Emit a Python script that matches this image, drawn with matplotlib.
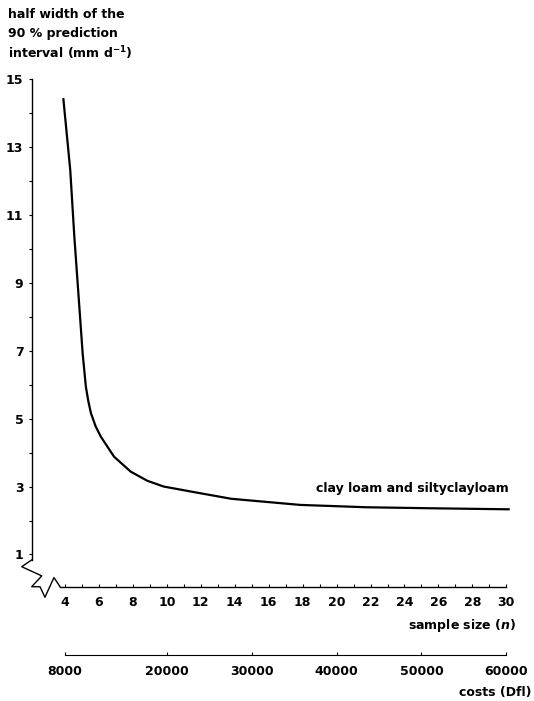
import numpy as np
import matplotlib
matplotlib.use("Agg")
import matplotlib.pyplot as plt

plt.rcParams['font.family'] = ['DejaVu Sans']
plt.rcParams['font.weight'] = 'bold'
plt.rcParams['mathtext.fontset'] = 'custom'
plt.rcParams['mathtext.rm'] = 'DejaVu Sans:bold'
plt.rcParams['mathtext.it'] = 'DejaVu Sans:italic:bold'

# values
sample_n = [3.9, 4.31, 4.55, 4.90, 5.04, 5.23, 5.38, 5.53, 5.8, 6.11, 6.89,
            7.87, 8.85, 9.82, 11.79, 13.8, 17.85, 21.8, 25.7, 30.2]
half_width = [14.44, 12.32, 10.36, 7.91, 6.92, 5.94, 5.5, 5.16, 4.78, 4.47,
              3.88, 3.44, 3.17, 3.00, 2.82, 2.64, 2.46, 2.39, 2.36, 2.33]
n_ticks = list(range(4, 31, 2))
y_ticks = list(range(1, 16, 2))
cost_ticks = [8000, 20000, 30000, 40000, 50000, 60000]
cost_per_sample = 2000
curve_label = "clay loam and siltyclayloam"
ylabel_lines = ["half width of the", "90 % prediction", "interval (mm d$^{-1}$)"]

fs = 9
fig = plt.figure(figsize=(5.34, 7.01), dpi=100)
ax = fig.add_axes([0.0594, 0.163, 0.9047, 0.729])

ax.plot(sample_n, half_width, color='black', lw=1.6, solid_capstyle='butt',
        solid_joinstyle='round')

ax.set_xlim(2.04, 30.5)
ax.set_ylim(0.05, 15.1)
for s in ('top', 'right'):
    ax.spines[s].set_visible(False)
ax.spines['left'].set_bounds(0.84, 15)
ax.spines['bottom'].set_bounds(3.71, 30)
for s in ('left', 'bottom'):
    ax.spines[s].set_linewidth(1.0)

# axis break marks
brk_x = [2.04, 1.45, 2.63, 2.04, 2.53, 2.82, 3.35, 3.71]
brk_y = [0.84, 0.64, 0.37, 0.05, 0.05, -0.26, 0.32, 0.05]
ax.plot(brk_x, brk_y, color='black', lw=1.0, clip_on=False)

ax.set_xticks(n_ticks)
ax.set_xticks(range(5, 30, 2), minor=True)
ax.set_yticks(y_ticks)
ax.set_yticks(range(2, 15, 2), minor=True)
ax.tick_params(axis='x', which='both', direction='in', length=2, width=0.8,
               pad=7, labelsize=fs)
ax.tick_params(axis='y', which='both', direction='out', length=2, width=0.8,
               pad=4, labelsize=fs)

ax.text(30.17, 2.93, curve_label, ha='right', va='center', fontsize=fs)

# second axis: costs
ax2 = fig.add_axes([0.0594, 0.0656, 0.9047, 0.001])
ax2.set_xlim(2.04 * cost_per_sample, 30.5 * cost_per_sample)
for s in ('top', 'right', 'left'):
    ax2.spines[s].set_visible(False)
ax2.spines['bottom'].set_bounds(cost_ticks[0], cost_ticks[-1])
ax2.set_yticks([])
ax2.set_xticks(cost_ticks)
ax2.tick_params(axis='x', direction='in', length=2, width=0.8, pad=7,
                labelsize=fs)
ax2.patch.set_visible(False)

for i, line in enumerate(ylabel_lines):
    fig.text(0.015, 1 - (15 + 19 * i) / 701, line, ha='left', va='center',
             fontsize=fs)
fig.text(0.9657, 0.1084, "sample size ($\\it{n}$)", ha='right', va='center',
         fontsize=fs)
fig.text(0.996, 0.0128, "costs (Dfl)", ha='right', va='center', fontsize=fs)

fig.savefig("out.png", dpi=100)
